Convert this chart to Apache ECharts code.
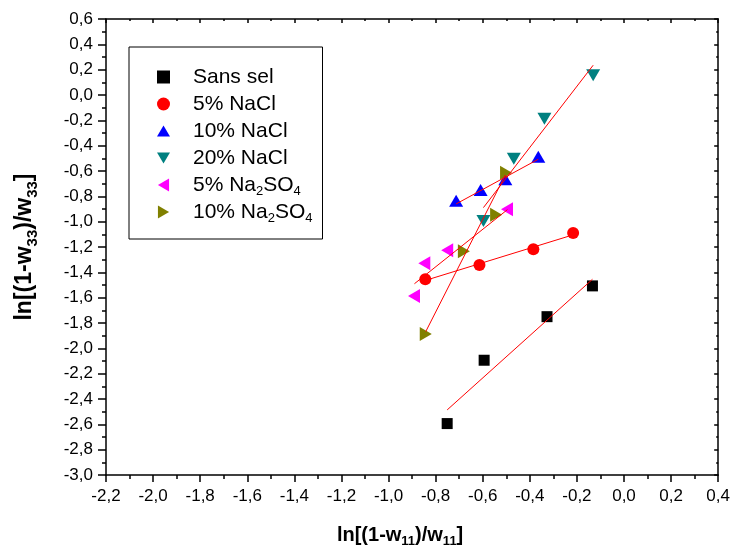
<!DOCTYPE html>
<html>
<head>
<meta charset="utf-8">
<script src="https://cdn.jsdelivr.net/npm/echarts@6/dist/echarts.min.js"></script>
<style>
html,body{margin:0;padding:0;background:#fff;}
#chart{width:733px;height:556px;}
</style>
</head>
<body>
<div id="chart"></div>
<script>
// ---- data ----
var seriesNames = ['Sans sel', '5% NaCl', '10% NaCl', '20% NaCl', '5% Na2SO4', '10% Na2SO4'];

var sansSelX = [-0.751, -0.594, -0.327, -0.134];
var sansSelY = [-2.594, -2.094, -1.750, -1.507];

var nacl5X = [-0.844, -0.614, -0.385, -0.216];
var nacl5Y = [-1.454, -1.342, -1.218, -1.089];

var nacl10X = [-0.713, -0.609, -0.504, -0.364];
var nacl10Y = [-0.834, -0.750, -0.665, -0.487];

var nacl20X = [-0.597, -0.468, -0.338, -0.131];
var nacl20Y = [-0.994, -0.503, -0.187, 0.156];

var na2so45X = [-0.892, -0.848, -0.751, -0.497];
var na2so45Y = [-1.586, -1.328, -1.226, -0.902];

var na2so410X = [-0.842, -0.680, -0.543, -0.501];
var na2so410Y = [-1.886, -1.234, -0.945, -0.613];

// fitted straight lines (end points)
var fitSansSelX = [-0.751, -0.134];
var fitSansSelY = [-2.486, -1.455];
var fitNacl5X = [-0.844, -0.216];
var fitNacl5Y = [-1.464, -1.104];
var fitNacl10X = [-0.713, -0.364];
var fitNacl10Y = [-0.860, -0.507];
var fitNacl20X = [-0.597, -0.131];
var fitNacl20Y = [-0.889, 0.235];
var fitNa2so45X = [-0.890, -0.495];
var fitNa2so45Y = [-1.490, -0.905];
var fitNa2so410X = [-0.842, -0.504];
var fitNa2so410Y = [-1.868, -0.631];

// axis ranges / ticks
var xMin = -2.2, xMax = 0.4, xStep = 0.2;
var yMin = -3.0, yMax = 0.6, yStep = 0.2;

function pairs(xs, ys) { return xs.map(function (x, i) { return [x, ys[i]]; }); }
function fmt(v) { return v.toFixed(1).replace('.', ','); }

var FONT = 'Liberation Sans, Arial, sans-serif';
var colors = ['#000000', '#ff0000', '#0000ff', '#008080', '#ff00ff', '#808000'];
var symbols = [
  'rect',
  'circle',
  'path://M7,0L14,12L0,12Z',
  'path://M0,0L14,0L7,12Z',
  'path://M0,7L12,0L12,14Z',
  'path://M0,0L12,7L0,14Z'
];
var sizes = [11, 12, [14, 12], [14, 12], [12, 14], [12, 14]];
var pts = [
  pairs(sansSelX, sansSelY), pairs(nacl5X, nacl5Y), pairs(nacl10X, nacl10Y),
  pairs(nacl20X, nacl20Y), pairs(na2so45X, na2so45Y), pairs(na2so410X, na2so410Y)
];
var fits = [
  pairs(fitSansSelX, fitSansSelY), pairs(fitNacl5X, fitNacl5Y), pairs(fitNacl10X, fitNacl10Y),
  pairs(fitNacl20X, fitNacl20Y), pairs(fitNa2so45X, fitNa2so45Y), pairs(fitNa2so410X, fitNa2so410Y)
];

var series = [];
fits.forEach(function (f, i) {
  series.push({
    name: 'fit' + i, type: 'line', data: f, symbol: 'none', silent: true,
    lineStyle: { color: '#ff0000', width: 1 }, z: 3, animation: false
  });
});
pts.forEach(function (p, i) {
  series.push({
    name: seriesNames[i], type: 'scatter', data: p,
    symbol: symbols[i], symbolSize: sizes[i],
    itemStyle: { color: colors[i], opacity: 1 }, z: 2, animation: false
  });
});

var option = {
  animation: false,
  backgroundColor: '#fff',
  textStyle: { fontFamily: FONT },
  grid: { left: 106, right: 13, top: 19, bottom: 81, containLabel: false },
  legend: {
    data: seriesNames,
    orient: 'vertical', left: 129, top: 47,
    padding: [17, 10, 14, 28],
    borderColor: '#000', borderWidth: 1,
    itemWidth: 13, itemHeight: 13, itemGap: 1,
    symbolKeepAspect: true,
    textStyle: {
      fontFamily: FONT, fontSize: 21, color: '#000', lineHeight: 26,
      rich: {
        g: { width: 18, fontSize: 21, lineHeight: 26 },
        s: { fontFamily: FONT, fontSize: 13, lineHeight: 12, verticalAlign: 'bottom', color: '#000' }
      }
    },
    formatter: function (n) { return '{g| }' + n.replace('Na2SO4', 'Na{s|2}SO{s|4}'); }
  },
  xAxis: [
    {
      type: 'value', min: xMin, max: xMax, interval: xStep, position: 'bottom',
      axisLine: { show: true, onZero: false, lineStyle: { color: '#000', width: 1.5 } },
      axisTick: { show: true, inside: false, length: 7, lineStyle: { color: '#000', width: 1.5 } },
      minorTick: { show: true, splitNumber: 2, length: 4, lineStyle: { color: '#000', width: 1.5 } },
      splitLine: { show: false },
      axisLabel: { formatter: fmt, fontFamily: FONT, fontSize: 17, color: '#000', margin: 13 },
      name: 'ln[(1-w{s|11})/w{s|11}]', nameLocation: 'middle', nameGap: 48,
      nameTextStyle: {
        fontFamily: FONT, fontSize: 20, fontWeight: 'bold', color: '#000', lineHeight: 25,
        padding: [0, 24, 0, 0],
        rich: { s: { fontFamily: FONT, fontSize: 13, fontWeight: 'bold', color: '#000', verticalAlign: 'bottom', lineHeight: 12 } }
      }
    },
    {
      type: 'value', min: xMin, max: xMax, interval: xStep, position: 'top',
      axisLine: { show: true, onZero: false, lineStyle: { color: '#000', width: 1.5 } },
      axisTick: { show: true, inside: true, length: 4, lineStyle: { color: '#000', width: 1.5 } },
      minorTick: { show: true, splitNumber: 2, length: 2, lineStyle: { color: '#000', width: 1.5 } },
      splitLine: { show: false }, axisLabel: { show: false }
    }
  ],
  yAxis: [
    {
      type: 'value', min: yMin, max: yMax, interval: yStep, position: 'left',
      axisLine: { show: true, onZero: false, lineStyle: { color: '#000', width: 1.5 } },
      axisTick: { show: true, inside: false, length: 8, lineStyle: { color: '#000', width: 1.5 } },
      minorTick: { show: true, splitNumber: 2, length: 4, lineStyle: { color: '#000', width: 1.5 } },
      splitLine: { show: false },
      axisLabel: { formatter: fmt, fontFamily: FONT, fontSize: 17, color: '#000', margin: 13 },
      name: 'ln[(1-w{s|33})/w{s|33}]', nameLocation: 'middle', nameGap: 66,
      nameTextStyle: {
        fontFamily: FONT, fontSize: 23, fontWeight: 'bold', color: '#000', lineHeight: 30,
        rich: { s: { fontFamily: FONT, fontSize: 15, fontWeight: 'bold', color: '#000', verticalAlign: 'bottom', lineHeight: 14 } }
      }
    },
    {
      type: 'value', min: yMin, max: yMax, interval: yStep, position: 'right',
      axisLine: { show: true, onZero: false, lineStyle: { color: '#000', width: 1.5 } },
      axisTick: { show: true, inside: true, length: 4, lineStyle: { color: '#000', width: 1.5 } },
      minorTick: { show: true, splitNumber: 2, length: 2, lineStyle: { color: '#000', width: 1.5 } },
      splitLine: { show: false }, axisLabel: { show: false }
    }
  ],
  series: series
};

var chart = echarts.init(document.getElementById('chart'), null, { renderer: 'canvas' });
chart.setOption(option);
</script>
</body>
</html>
